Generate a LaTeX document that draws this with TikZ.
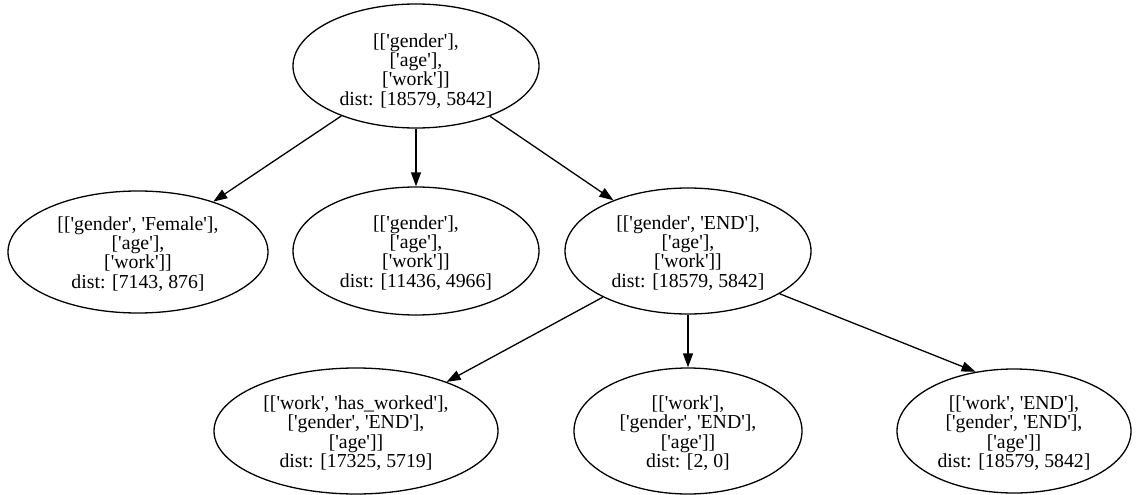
\documentclass[tikz,border=0pt]{standalone}
\usepackage{fontspec}
\setmainfont{Liberation Serif}[Ligatures=TeXOff]
\usetikzlibrary{arrows.meta,shapes.geometric}
\begin{document}
\begin{tikzpicture}[x=1pt,y=-1pt,
  state/.style={draw, ellipse, line width=1.3pt, inner sep=0pt},
  txt/.style={align=center, font=\fontsize{19.8}{19.3}\selectfont, yshift=-2pt},
  edge/.style={line width=1.3pt, -{Triangle[length=14pt,width=10pt]}}]
\useasboundingbox (0,0) rectangle (1143,495);

% search tree nodes (a line break is written \\{} so that a following [ is kept as text)
\node[state, minimum width=246pt, minimum height=124pt,
  label={[txt,yshift=-3pt]center:{[['gender'],\\{}['age'],\\{}['work']]\\{}dist: [18579, 5842]}}] (root) at (416,66) {};

\node[state, minimum width=260pt, minimum height=122pt,
  label={[txt]center:{[['gender', 'Female'],\\{}['age'],\\{}['work']]\\{}dist: [7143, 876]}}] (female) at (138,252) {};
\node[state, minimum width=246pt, minimum height=128pt,
  label={[txt]center:{[['gender'],\\{}['age'],\\{}['work']]\\{}dist: [11436, 4966]}}] (same) at (416,251) {};
\node[state, minimum width=246pt, minimum height=126pt,
  label={[txt]center:{[['gender', 'END'],\\{}['age'],\\{}['work']]\\{}dist: [18579, 5842]}}] (gend) at (688,251) {};

\node[state, minimum width=284pt, minimum height=126pt,
  label={[txt]center:{[['work', 'has\_worked'],\\{}['gender', 'END'],\\{}['age']]\\{}dist: [17325, 5719]}}] (worked) at (356,431) {};
\node[state, minimum width=228pt, minimum height=126pt,
  label={[txt]center:{[['work'],\\{}['gender', 'END'],\\{}['age']]\\{}dist: [2, 0]}}] (work) at (688,431) {};
\node[state, minimum width=234pt, minimum height=124pt,
  label={[txt]center:{[['work', 'END'],\\{}['gender', 'END'],\\{}['age']]\\{}dist: [18579, 5842]}}] (wend) at (1014,431) {};

% expansions
\draw[edge] (root) -- (female);
\draw[edge] (root) -- (same);
\draw[edge] (root) -- (gend);
\draw[edge] (gend) -- (worked);
\draw[edge] (gend) -- (work);
\draw[edge] (gend.-25) -- (wend.123.5);
\end{tikzpicture}
\end{document}
